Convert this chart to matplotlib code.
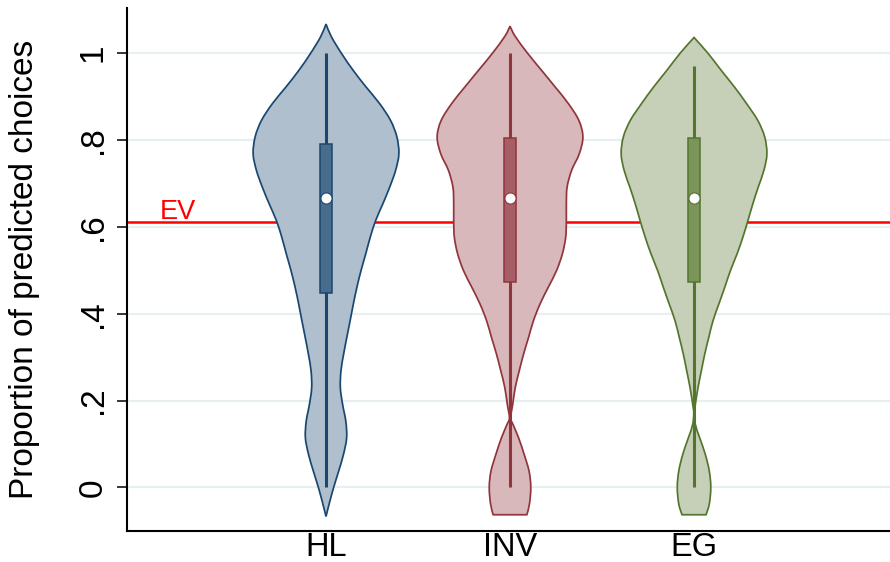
import numpy as np
import matplotlib
matplotlib.use("Agg")
import matplotlib.pyplot as plt
from matplotlib.path import Path
from matplotlib.patches import PathPatch, Rectangle

plt.rcParams["font.family"] = ["Liberation Sans", "DejaVu Sans"]

groups = ["HL", "INV", "EG"]

# Density outlines: proportion level and relative half-width (peak = 1)
hl_levels = [1.067, 1.038, 1.0, 0.961, 0.922, 0.884, 0.845, 0.807, 0.768, 0.730,
             0.691, 0.653, 0.614, 0.576, 0.537, 0.499, 0.460, 0.422, 0.383, 0.345,
             0.307, 0.268, 0.229, 0.191, 0.152, 0.114, 0.076, 0.037, 0.0, -0.035, -0.067]
hl_width = [0.0, 0.073, 0.21, 0.37, 0.55, 0.735, 0.886, 0.973, 1.0, 0.955,
            0.873, 0.78, 0.68, 0.607, 0.544, 0.48, 0.423, 0.375, 0.33, 0.285,
            0.242, 0.205, 0.197, 0.228, 0.272, 0.283, 0.24, 0.173, 0.105, 0.048, 0.0]

inv_levels = [1.062, 1.039, 1.0, 0.961, 0.922, 0.884, 0.845, 0.807, 0.768, 0.730,
              0.691, 0.653, 0.614, 0.576, 0.538, 0.499, 0.461, 0.422, 0.384, 0.345,
              0.307, 0.268, 0.230, 0.191, 0.160, 0.145, 0.114, 0.076, 0.037, 0.0,
              -0.038, -0.063]
inv_width = [0.0, 0.07, 0.24, 0.43, 0.62, 0.80, 0.945, 1.0, 0.95, 0.845,
             0.783, 0.773, 0.773, 0.764, 0.719, 0.638, 0.525, 0.411, 0.322, 0.254,
             0.186, 0.126, 0.072, 0.037, 0.008, 0.041, 0.118, 0.194, 0.262, 0.285,
             0.267, 0.231]

eg_levels = [1.036, 1.0, 0.961, 0.922, 0.884, 0.845, 0.807, 0.768, 0.730,
             0.691, 0.653, 0.614, 0.576, 0.538, 0.499, 0.461, 0.422, 0.384, 0.345,
             0.307, 0.268, 0.230, 0.191, 0.172, 0.145, 0.114, 0.076, 0.037, 0.0,
             -0.038, -0.063]
eg_width = [0.0, 0.19, 0.37, 0.555, 0.72, 0.875, 0.97, 1.0, 0.959,
            0.88, 0.807, 0.739, 0.67, 0.591, 0.499, 0.422, 0.34, 0.261, 0.202,
            0.147, 0.10, 0.055, 0.018, 0.004, 0.018, 0.078, 0.155, 0.21, 0.23,
            0.21, 0.165]

# Box-plot summaries per group
q1 = [0.447, 0.473, 0.473]
q3 = [0.790, 0.804, 0.804]
medians = [0.667, 0.667, 0.667]
whisker_lo = [0.0, 0.0, 0.0]
whisker_hi = [1.0, 1.0, 0.971]

ev_value = 0.61

y_ticks = [0, 0.2, 0.4, 0.6, 0.8, 1.0]
y_tick_labels = ["0", ".2", ".4", ".6", ".8", "1"]

edge_colors = ["#1a476f", "#90353b", "#55752f"]
fill_colors = ["#afbfcd", "#d9b8bc", "#c6d0b8"]
box_colors = ["#486c8c", "#a65f66", "#7a9459"]

profiles = [(hl_levels, hl_width), (inv_levels, inv_width), (eg_levels, eg_width)]


def smooth_edge(pts):
    """Catmull-Rom spline through pts, returned as cubic Bezier vertices."""
    pts = np.asarray(pts, dtype=float)
    ext = np.vstack([pts[0], pts, pts[-1]])
    verts = []
    for i in range(1, len(ext) - 2):
        p0, p1, p2, p3 = ext[i - 1], ext[i], ext[i + 1], ext[i + 2]
        verts += [p1 + (p2 - p0) / 6.0, p2 - (p3 - p1) / 6.0, p2]
    return pts[0], verts


def violin_path(center, levels, widths, half):
    lv = np.asarray(levels)[::-1]
    wd = np.asarray(widths)[::-1] * half
    right = np.column_stack([center + wd, lv])
    left = np.column_stack([center - wd, lv])[::-1]
    r0, rv = smooth_edge(right)
    l0, lv_ = smooth_edge(left)
    verts = [r0] + rv + [l0] + lv_ + [r0]
    codes = ([Path.MOVETO] + [Path.CURVE4] * len(rv) + [Path.LINETO]
             + [Path.CURVE4] * len(lv_) + [Path.CLOSEPOLY])
    return Path(np.array(verts), codes)


fig = plt.figure(figsize=(8.9, 5.62), dpi=100)
ax = fig.add_axes([0.1427, 0.0555, 0.8573, 0.9303])

ax.set_xlim(-0.0815, 4.065)
ax.set_ylim(-0.1, 1.104)

for t in y_ticks:
    ax.axhline(t, color="#e7eff1", lw=1.6, zorder=0)

ax.axhline(ev_value, color="#ff0000", lw=1.8, zorder=1)
ax.text(0.197, ev_value + 0.009, "EV", color="#ff0000", fontsize=19.5,
        ha="center", va="baseline")

half_width = 0.396
box_half = 0.031
for i, (lev, wid) in enumerate(profiles):
    c = i + 1
    ax.add_patch(PathPatch(violin_path(c, lev, wid, half_width),
                           facecolor=fill_colors[i], edgecolor=edge_colors[i],
                           lw=1.25, zorder=2))
    ax.plot([c, c], [whisker_lo[i], whisker_hi[i]], color=edge_colors[i],
            lw=2.2, solid_capstyle="butt", zorder=3)
    ax.add_patch(Rectangle((c - box_half, q1[i]), 2 * box_half, q3[i] - q1[i],
                           facecolor=box_colors[i], edgecolor=edge_colors[i],
                           lw=1.1, zorder=4))
    ax.plot([c], [medians[i]], marker="o", markersize=8, color="white",
            markeredgecolor=edge_colors[i], markeredgewidth=0.8, zorder=5)

for side in ["top", "right"]:
    ax.spines[side].set_visible(False)
for side in ["left", "bottom"]:
    ax.spines[side].set_linewidth(1.5)

ax.set_yticks(y_ticks)
ax.set_yticklabels(y_tick_labels, rotation=90, va="center", fontsize=24)
ax.tick_params(axis="y", length=7, width=1.1, pad=6)

ax.set_xticks([1, 2, 3])
ax.set_xticklabels(groups, fontsize=23.5)
ax.tick_params(axis="x", length=0, pad=0.5)

ax.set_ylabel("Proportion of predicted choices", fontsize=24, labelpad=27)

fig.savefig("out.png", dpi=100)
